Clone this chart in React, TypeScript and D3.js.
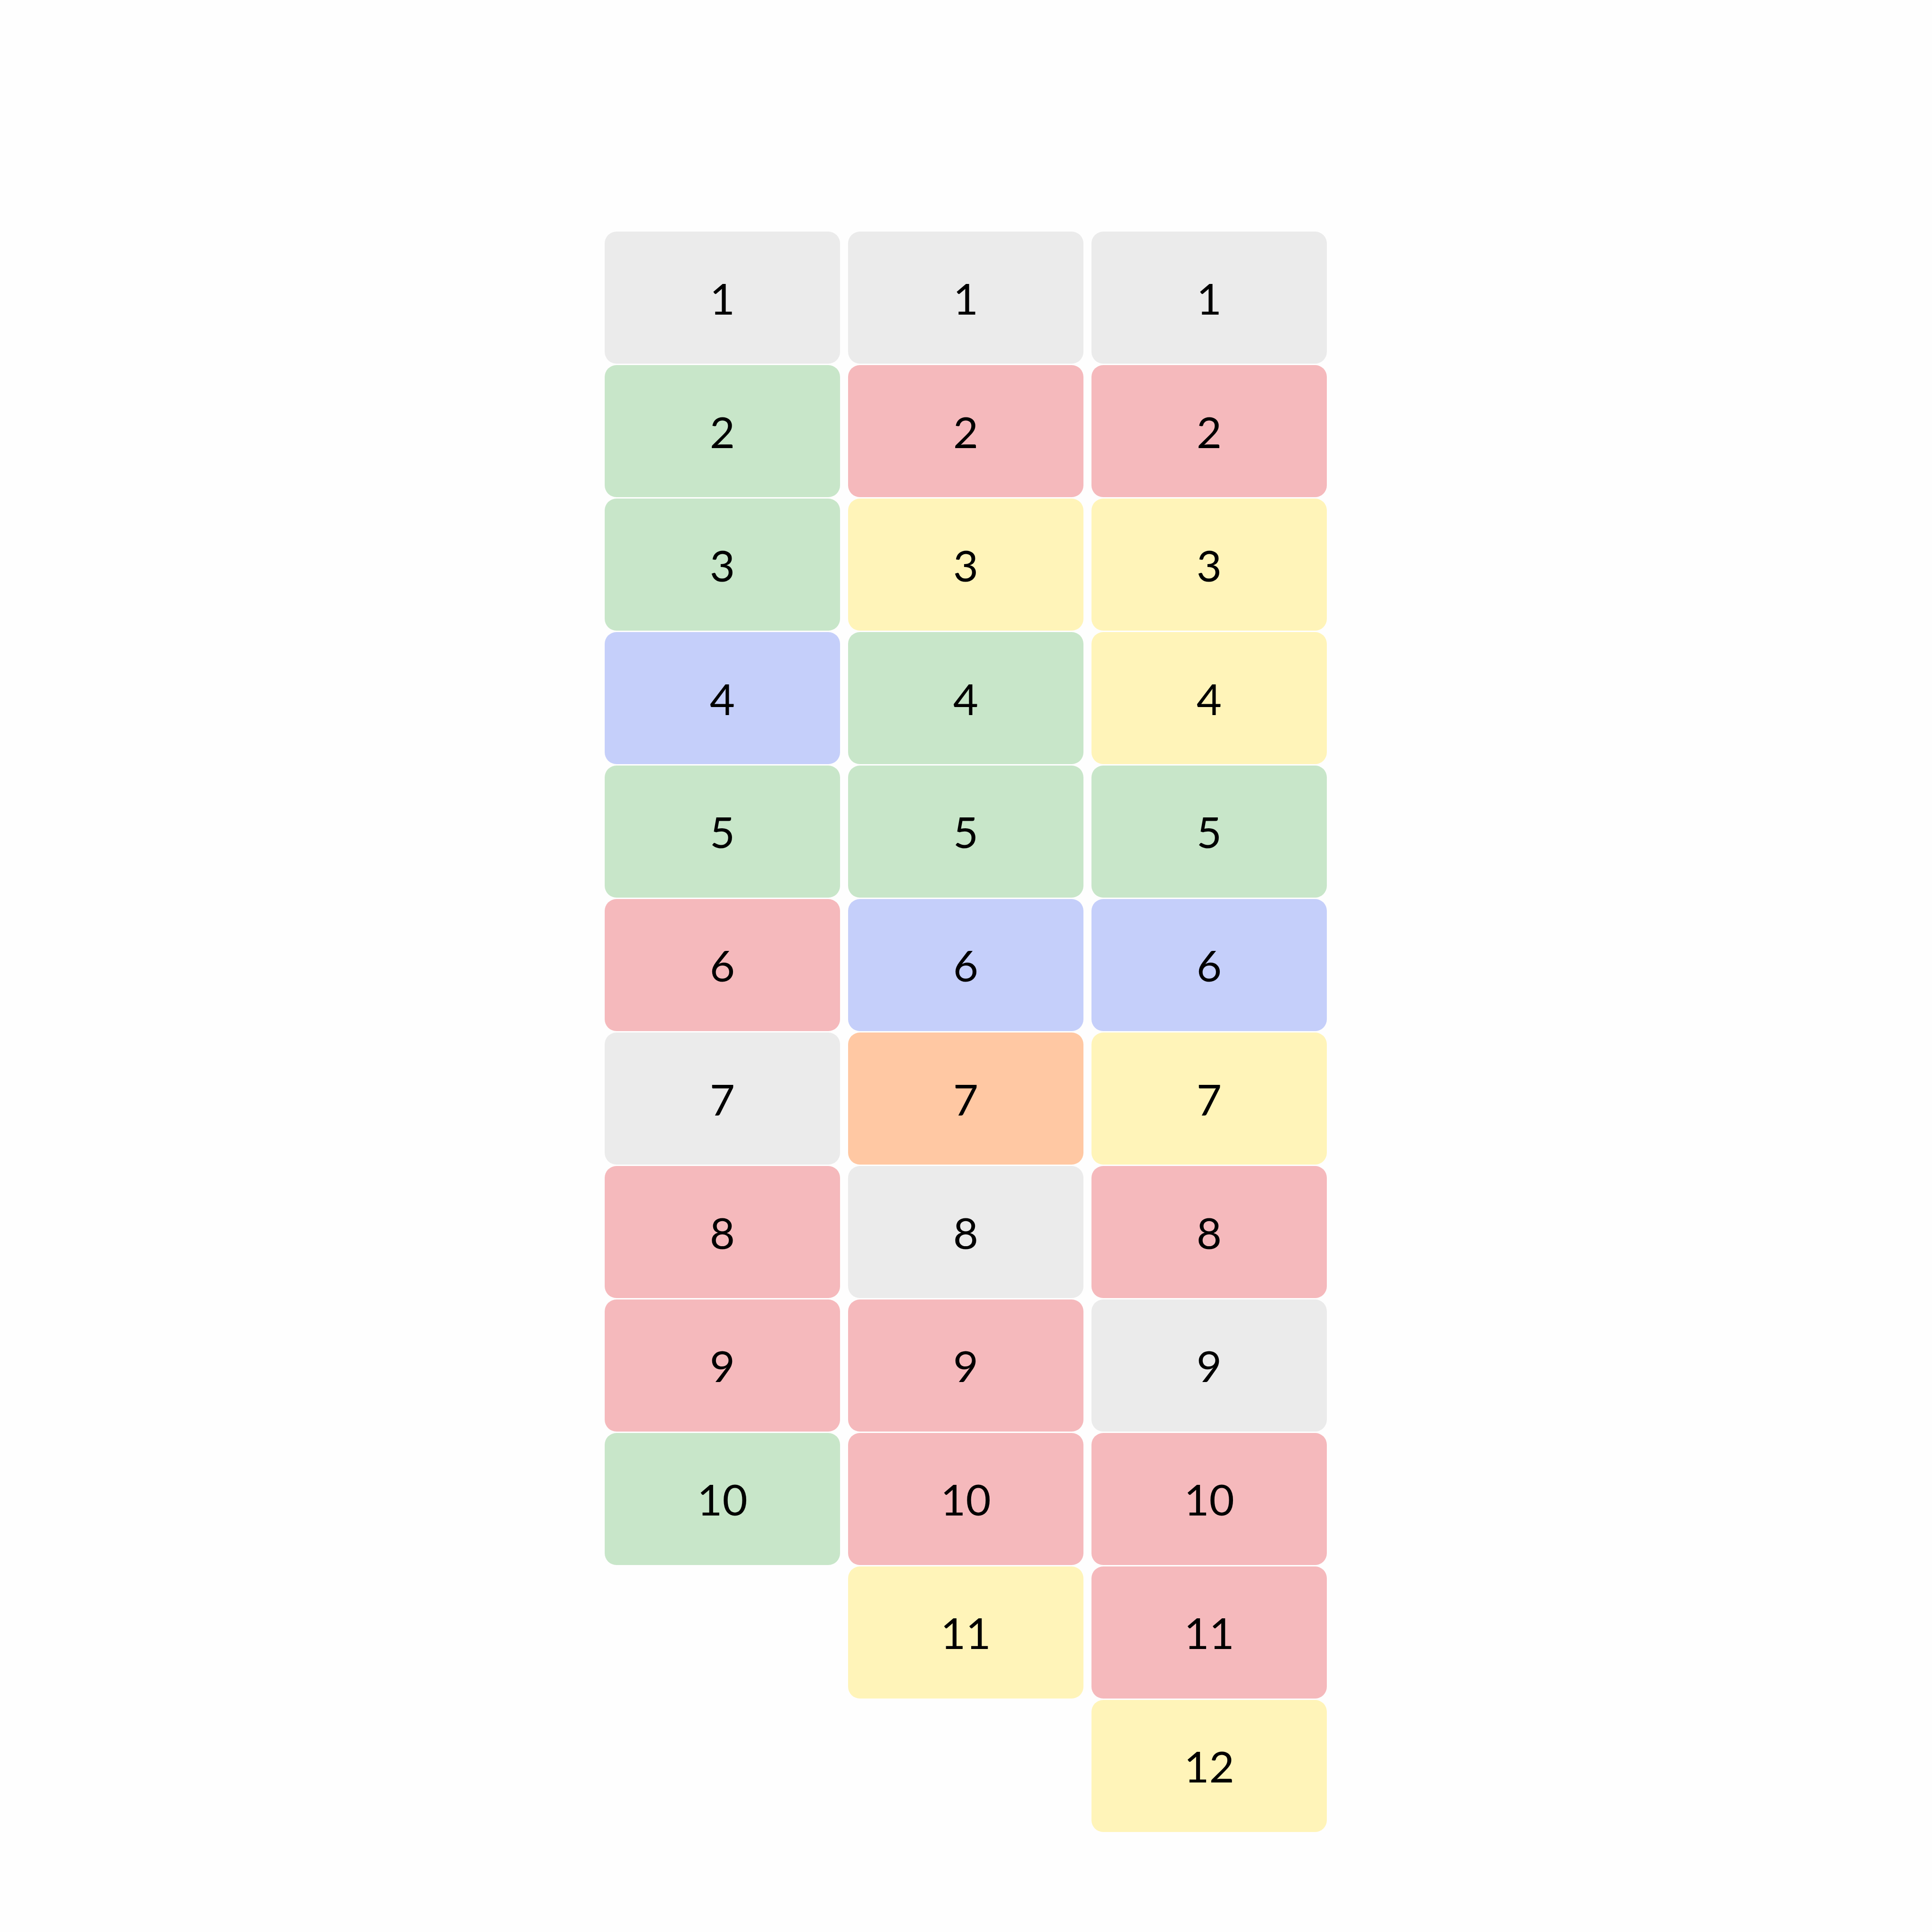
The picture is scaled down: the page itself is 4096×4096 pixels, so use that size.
import { range, scaleBand, scaleOrdinal, select } from "d3";
import React, { useEffect, useRef } from "react";

// colour category of every cell, one array per column, top to bottom
const column1 = ["gray", "green", "green", "blue", "green", "red", "gray", "red", "red", "green"];
const column2 = ["gray", "red", "yellow", "green", "green", "blue", "orange", "gray", "red", "red", "yellow"];
const column3 = ["gray", "red", "yellow", "yellow", "green", "blue", "yellow", "red", "gray", "red", "red", "yellow"];

const columns = [column1, column2, column3];
const categories = ["gray", "green", "red", "yellow", "blue", "orange"];
const palette = ["#ebebeb", "#c8e6c9", "#f5b9bc", "#fff4b9", "#c5cffa", "#ffc8a3"];

const WIDTH = 4096;
const HEIGHT = 4096;

function App() {
  const svgRef = useRef(null);

  useEffect(() => {
    const svg = select(svgRef.current);
    const maxRows = Math.max(...columns.map(c => c.length));

    const x = scaleBand()
      .domain(range(columns.length).map(String))
      .range([1282, 2813])
      .paddingInner(0.033)
      .paddingOuter(0);

    const y = scaleBand()
      .domain(range(1, maxRows + 1).map(String))
      .range([491, 3884])
      .paddingInner(0.0106)
      .paddingOuter(0);

    const color = scaleOrdinal().domain(categories).range(palette);

    // flatten to one record per cell
    const cells = columns.flatMap((col, ci) =>
      col.map((cat, ri) => ({ col: String(ci), row: String(ri + 1), cat }))
    );

    const g = svg.selectAll("g.cell")
      .data(cells)
      .join("g")
      .attr("class", "cell")
      .attr("transform", d => `translate(${x(d.col)},${y(d.row)})`);

    g.selectAll("rect")
      .data(d => [d])
      .join("rect")
      .attr("width", x.bandwidth())
      .attr("height", y.bandwidth())
      .attr("rx", 25)
      .attr("ry", 25)
      .attr("fill", d => color(d.cat));

    g.selectAll("text")
      .data(d => [d])
      .join("text")
      .attr("x", x.bandwidth() / 2)
      .attr("y", y.bandwidth() / 2)
      .attr("text-anchor", "middle")
      .attr("dominant-baseline", "central")
      .attr("font-family", "Lato, 'Open Sans', sans-serif")
      .attr("font-size", 92)
      .attr("fill", "#000")
      .text(d => d.row);
  }, []);

  return (
    <div style={{ position: "absolute", left: 0, top: 0 }}>
      <svg ref={svgRef} width={WIDTH} height={HEIGHT} style={{ background: "#fefefe", display: "block" }}></svg>
    </div>
  );
}

export default App;
